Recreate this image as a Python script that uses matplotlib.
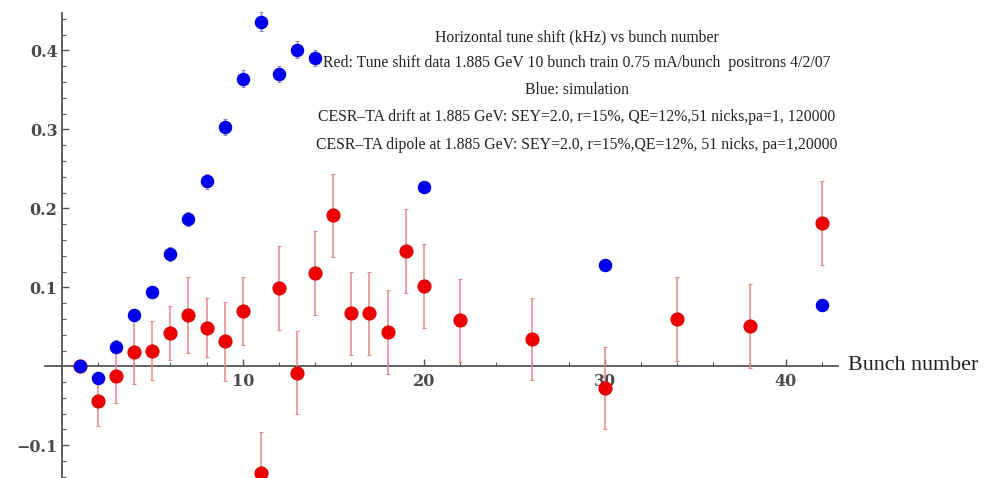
import matplotlib
matplotlib.use("Agg")
import matplotlib.pyplot as plt
import numpy as np

# Simulation (blue)
sim_x = [1, 2, 3, 4, 5, 6, 7, 8, 9, 10, 11, 12, 13, 14, 20, 30, 42]
sim_y = [0.0, -0.015, 0.025, 0.065, 0.094, 0.142, 0.186, 0.234, 0.303, 0.364,
         0.436, 0.370, 0.401, 0.390, 0.227, 0.128, 0.077]
sim_err = [0.0, 0.008, 0.008, 0.008, 0.008, 0.009, 0.009, 0.010, 0.010, 0.011,
           0.012, 0.010, 0.011, 0.010, 0.0, 0.0, 0.0]

# Data (red)
dat_x = [1, 2, 3, 4, 5, 6, 7, 8, 9, 10, 11, 12, 13, 14, 15, 16, 17, 18, 19, 20,
         22, 26, 30, 34, 38, 42]
dat_y = [0.0, -0.044, -0.012, 0.018, 0.020, 0.042, 0.065, 0.049, 0.032, 0.070,
         -0.135, 0.099, -0.008, 0.118, 0.191, 0.067, 0.067, 0.043, 0.146, 0.102,
         0.058, 0.035, -0.027, 0.060, 0.051, 0.181]
dat_err = [0.0, 0.032, 0.035, 0.041, 0.037, 0.034, 0.048, 0.037, 0.050, 0.043,
           0.052, 0.053, 0.053, 0.053, 0.053, 0.053, 0.053, 0.053, 0.053, 0.053,
           0.053, 0.052, 0.052, 0.053, 0.053, 0.053]

x_major = [10, 20, 30, 40]
x_minor = [2, 4, 6, 8, 12, 14, 16, 18, 22, 24, 26, 28, 32, 34, 36, 38, 42]
y_major = [-0.1, 0.1, 0.2, 0.3, 0.4]
y_minor = [-0.14, -0.12, -0.08, -0.06, -0.04, -0.02, 0.02, 0.04, 0.06, 0.08,
           0.12, 0.14, 0.16, 0.18, 0.22, 0.24, 0.26, 0.28, 0.32, 0.34, 0.36,
           0.38, 0.42, 0.44]

title_lines = [
    "Horizontal tune shift (kHz) vs bunch number",
    "Red: Tune shift data 1.885 GeV 10 bunch train 0.75 mA/bunch  positrons 4/2/07",
    "Blue: simulation",
    "CESR\u2013TA drift at 1.885 GeV: SEY=2.0, r=15%, QE=12%,51 nicks,pa=1, 120000",
    "CESR\u2013TA dipole at 1.885 GeV: SEY=2.0, r=15%,QE=12%, 51 nicks, pa=1,20000",
]

fig = plt.figure(figsize=(9.94, 4.78), dpi=100)
ax = fig.add_axes([0, 0, 1, 1])
ax.set_xlim(-3.41, 51.5)
ax.set_ylim(-0.1414, 0.4637)
ax.patch.set_alpha(0)

axcol = "#555555"
for s in ["top", "right"]:
    ax.spines[s].set_visible(False)
ax.spines["left"].set_position(("data", 0))
ax.spines["bottom"].set_position(("data", 0))
ax.spines["left"].set_bounds(-0.1414, 0.447)
ax.spines["bottom"].set_bounds(-0.92, 42.9)
for s in ["left", "bottom"]:
    ax.spines[s].set_color(axcol)
    ax.spines[s].set_linewidth(1.3)

ax.set_xticks(x_major)
ax.set_xticks(x_minor, minor=True)
ax.set_yticks(y_major)
ax.set_yticks(y_minor, minor=True)
ax.set_xticklabels([str(v) for v in x_major])
ax.set_yticklabels(["\u22120.1", "0.1", "0.2", "0.3", "0.4"])
ax.tick_params(axis="both", which="major", direction="in", length=5, width=1,
               color=axcol, labelcolor="#4a4a4a", labelsize=11.5)
ax.tick_params(axis="both", which="minor", direction="in", length=3, width=0.8,
               color=axcol)
ax.tick_params(axis="x", which="major", pad=5)
ax.tick_params(axis="y", which="major", pad=3)
for lab in ax.get_xticklabels() + ax.get_yticklabels():
    lab.set_fontfamily("DejaVu Serif")
    lab.set_fontweight("bold")

# red data
ax.errorbar(dat_x, dat_y, yerr=dat_err, fmt="o", color="#ee0000", ms=9.2,
            mec="#dd0000", ecolor="#e08a8a", elinewidth=1.1, capsize=1.5,
            capthick=0.8, zorder=3)
# blue simulation
ax.errorbar(sim_x, sim_y, yerr=sim_err, fmt="o", color="#0000ee", ms=8.7,
            mec="#0000dd", ecolor="#8a8ad0", elinewidth=1.0, capsize=1.5,
            capthick=0.8, zorder=4)

ax.text(848 / 994, (478 - 366) / 478, "Bunch number", transform=ax.transAxes,
        ha="left", va="center", fontsize=15.8, family="Liberation Serif",
        color="#222222")

ys = [37, 63, 90, 117, 145]
for t, yp in zip(title_lines, ys):
    ax.text(577 / 994, 1 - yp / 478, t, transform=ax.transAxes, ha="center",
            va="center", fontsize=11.3, family="Liberation Serif", color="#222222")

fig.savefig("out.png", dpi=100)
